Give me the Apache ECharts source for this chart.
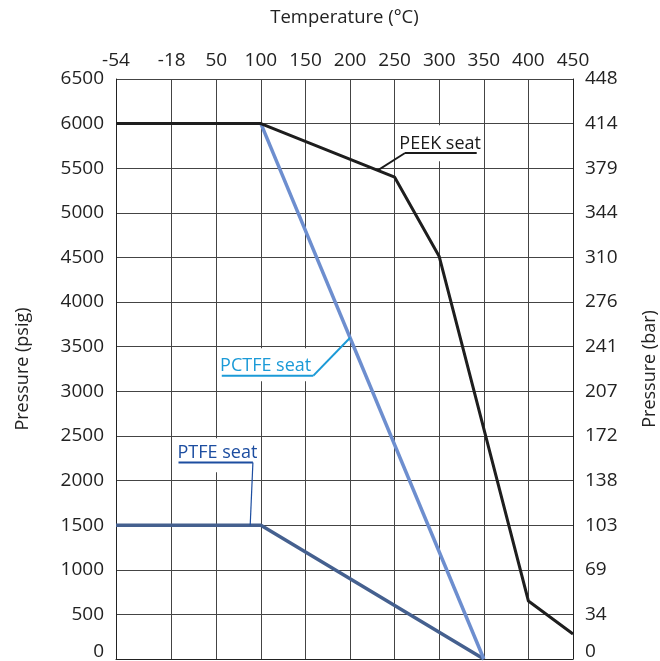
<!DOCTYPE html>
<html>
<head>
<meta charset="utf-8">
<script src="https://cdn.jsdelivr.net/npm/echarts@6/dist/echarts.min.js"></script>
<style>
html,body{margin:0;padding:0;background:#fff;}
#chart{width:660px;height:661px;}
</style>
</head>
<body>
<div id="chart"></div>
<script>
// Temperature tick labels (°C) and their positions on the (non-linear) printed scale
const tickTemps = [-54, -18, 50, 100, 150, 200, 250, 300, 350, 400, 450];
const tickPos = [0, 1.25, 2.25, 3.25, 4.25, 5.25, 6.25, 7.25, 8.25, 9.25, 10.25];

// Right axis (bar) labels
const barLabels = ['0', '34', '69', '103', '138', '172', '207', '241', '276', '310', '344', '379', '414', '448'];

// Series
const peekTemp = [-54, 100, 250, 300, 400, 450];
const peekPsi = [6000, 6000, 5400, 4510, 650, 280];
const pctfeTemp = [100, 350];
const pctfePsi = [6000, 0];
const ptfeTemp = [-54, 100, 350];
const ptfePsi = [1500, 1500, 0];

function tempToPos(t) {
  for (let i = 0; i < tickTemps.length - 1; i++) {
    if (t >= tickTemps[i] && t <= tickTemps[i + 1]) {
      const f = (t - tickTemps[i]) / (tickTemps[i + 1] - tickTemps[i]);
      return tickPos[i] + f * (tickPos[i + 1] - tickPos[i]);
    }
  }
  return t < tickTemps[0] ? tickPos[0] : tickPos[tickPos.length - 1];
}
function toData(temps, vals) {
  return temps.map((t, i) => [tempToPos(t), vals[i]]);
}

const FONT = '"Open Sans", "Noto Sans", sans-serif';
const chart = echarts.init(document.getElementById('chart'), null, {renderer: 'canvas'});

const gridLine = {show: true, lineStyle: {color: '#444', width: 1}};

chart.setOption({
  animation: false,
  backgroundColor: '#fff',
  grid: {left: 116, right: 87, top: 79, bottom: 2, containLabel: false, outerBoundsMode: 'none'},
  xAxis: {
    type: 'value',
    position: 'top',
    min: 0,
    max: 10.25,
    name: 'Temperature (°C)',
    nameLocation: 'middle',
    nameGap: 52,
    nameTextStyle: {fontFamily: FONT, fontSize: 18.5, color: '#222'},
    axisLine: {show: true, lineStyle: {color: '#222', width: 1}},
    axisTick: {show: false, customValues: tickPos},
    axisLabel: {
      customValues: tickPos,
      margin: 9,
      fontFamily: FONT, fontSize: 19, color: '#222',
      formatter: function (v) {
        let best = 0;
        for (let i = 0; i < tickPos.length; i++) {
          if (Math.abs(tickPos[i] - v) < Math.abs(tickPos[best] - v)) best = i;
        }
        return String(tickTemps[best]);
      }
    },
    splitLine: gridLine
  },
  yAxis: [
    {
      type: 'value',
      position: 'left',
      min: 0, max: 6500, interval: 500,
      name: 'Pressure (psig)',
      nameLocation: 'middle',
      nameGap: 84,
      nameRotate: 90,
      nameTextStyle: {fontFamily: FONT, fontSize: 18, color: '#222'},
      axisLine: {show: true, lineStyle: {color: '#222', width: 1}},
      axisTick: {show: false},
      axisLabel: {
        margin: 12, fontFamily: FONT, fontSize: 19, color: '#222',
        formatter: function (v) { return v === 0 ? '{z|0}' : String(v); },
        rich: {z: {fontFamily: FONT, fontSize: 19, color: '#222', padding: [0, 0, 14, 0]}}
      },
      splitLine: gridLine
    },
    {
      type: 'value',
      position: 'right',
      min: 0, max: 6500, interval: 500,
      name: 'Pressure (bar)',
      nameLocation: 'middle',
      nameGap: 68,
      nameRotate: 90,
      nameTextStyle: {fontFamily: FONT, fontSize: 18, color: '#222'},
      axisLine: {show: true, lineStyle: {color: '#222', width: 1}},
      axisTick: {show: false},
      axisLabel: {
        margin: 12, fontFamily: FONT, fontSize: 19, color: '#222',
        formatter: function (v) {
          const s = barLabels[Math.round(v / 500)];
          return v === 0 ? '{z|' + s + '}' : s;
        },
        rich: {z: {fontFamily: FONT, fontSize: 19, color: '#222', padding: [0, 0, 14, 0]}}
      },
      splitLine: {show: false}
    }
  ],
  series: [
    {
      name: 'PTFE seat', type: 'line', data: toData(ptfeTemp, ptfePsi),
      symbol: 'none', lineStyle: {color: '#45608f', width: 3.5}, z: 3
    },
    {
      name: 'PCTFE seat', type: 'line', data: toData(pctfeTemp, pctfePsi),
      symbol: 'none', lineStyle: {color: '#6d8ecf', width: 3.5}, z: 4
    },
    {
      name: 'PEEK seat', type: 'line', data: toData(peekTemp, peekPsi),
      symbol: 'none', lineStyle: {color: '#1e1e1e', width: 3}, z: 5
    }
  ]
});

// Annotations: anchored on points of each curve
function px(t, p) { return chart.convertToPixel({gridIndex: 0}, [tempToPos(t), p]); }
const g = [];
function addLabel(anchor, o) {
  const [ax, ay] = anchor;
  g.push({type: 'rect', z: 50, silent: true,
    shape: {x: ax + o.box[0], y: ay + o.box[1], width: o.box[2], height: o.box[3]},
    style: {fill: '#fff'}});
  g.push({type: 'text', z: 52, silent: true,
    style: {text: o.text, x: ax + o.tx, y: ay + o.ty, fill: o.color,
      font: '18px ' + FONT, align: 'left', verticalAlign: 'middle'}});
  g.push({type: 'polyline', z: 53, silent: true,
    shape: {points: o.under.map(p => [ax + p[0], ay + p[1]])},
    style: {stroke: o.color, lineWidth: 2, fill: null}});
  g.push({type: 'polyline', z: 53, silent: true,
    shape: {points: o.lead.map(p => [ax + p[0], ay + p[1]])},
    style: {stroke: o.color, lineWidth: o.leadW, fill: null}});
}
// PEEK seat: anchor on PEEK curve at 231 °C
addLabel(px(231, 6000 - 600 * 131 / 150), {
  text: 'PEEK seat', color: '#1a1a1a',
  box: [18, -45, 86, 36], tx: 21.6, ty: -26.6,
  under: [[27.3, -17.3], [99, -17.3]],
  lead: [[0, 0], [27.3, -17.3]], leadW: 1.8
});
// PCTFE seat: anchor on PCTFE curve at 200 °C
addLabel(px(200, 3600), {
  text: 'PCTFE seat', color: '#1b9ad7',
  box: [-132, 10.5, 95, 33], tx: -130, ty: 28.2,
  under: [[-36.7, 37.9], [-128.3, 37.9]],
  lead: [[0, 0], [-36.7, 37.9]], leadW: 2
});
// PTFE seat: anchor on PTFE curve at 88 °C
addLabel(px(88, 1500), {
  text: 'PTFE seat', color: '#1c4da0',
  box: [-74, -87, 80, 34], tx: -72.7, ty: -72,
  under: [[-71.7, -62.7], [2.7, -62.7]],
  lead: [[2.7, -62.7], [0, 0]], leadW: 1.2
});
chart.setOption({graphic: g});
</script>
</body>
</html>
